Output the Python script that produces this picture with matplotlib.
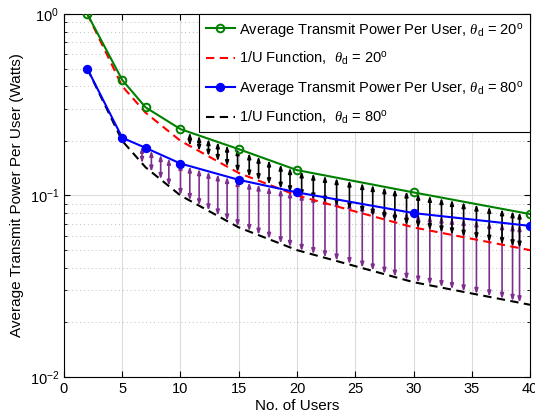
import numpy as np
import matplotlib
matplotlib.use("Agg")
import matplotlib.pyplot as plt
from matplotlib.ticker import LogLocator, NullFormatter, FixedLocator

plt.rcParams['font.family'] = ['Liberation Sans', 'DejaVu Sans']
plt.rcParams['mathtext.fontset'] = 'custom'
plt.rcParams['mathtext.it'] = 'Liberation Serif:italic'
plt.rcParams['mathtext.rm'] = 'Liberation Sans'

# --- data ---
users = [2, 5, 7, 10, 15, 20, 30, 40]
power_20 = [1.0, 0.433, 0.306, 0.232, 0.180, 0.138, 0.104, 0.079]
power_80 = [0.50, 0.208, 0.183, 0.150, 0.122, 0.104, 0.080, 0.068]
inv_20 = [1.0, 0.40, 0.286, 0.20, 0.133, 0.10, 0.0667, 0.050]
inv_80 = [0.50, 0.20, 0.143, 0.10, 0.0667, 0.050, 0.0333, 0.025]

# x positions of the gap arrows
arrow_x = [6.7, 7.5, 8.3, 9.0, 10.0, 10.8, 11.6, 12.4, 13.2, 14.0, 14.9, 15.9,
           16.7, 17.6, 18.6, 19.4, 20.4, 21.4, 22.4, 23.4, 24.5, 25.6, 26.5,
           27.5, 28.4, 29.4, 30.4, 31.4, 32.4, 33.3, 34.3, 35.4, 36.5, 37.6,
           38.5, 39.1]
black_start = 10.5

green = (0, 0.5, 0)
purple = (0.494, 0.184, 0.556)

fig = plt.figure(figsize=(5.35, 4.2), dpi=100)
ax = fig.add_axes([0.1196, 0.1024, 0.8711, 0.8643])


def interp_log(x, xs, ys):
    return 10 ** np.interp(x, xs, np.log10(ys))


# arrows drawn first so the curves sit on top
style = '<|-|>,head_length=0.3,head_width=0.1'
for x in arrow_x:
    lo = interp_log(x, users, inv_80)
    hi = interp_log(x, users, power_80)
    ax.annotate('', xy=(x, hi), xytext=(x, lo),
                arrowprops=dict(arrowstyle=style, color=purple, lw=1.2,
                                shrinkA=0, shrinkB=0), zorder=2)
    if x >= black_start:
        lo = interp_log(x, users, inv_20)
        hi = interp_log(x, users, power_20)
        ax.annotate('', xy=(x, hi), xytext=(x, lo),
                    arrowprops=dict(arrowstyle=style, color='black', lw=1.2,
                                    shrinkA=0, shrinkB=0), zorder=2)

dash = (0, (4, 2.6))
ax.plot(users, power_20, '-o', color=green, lw=1.5, ms=5.5, mfc='none', mew=1.4,
        label=r'Average Transmit Power Per User, $\theta_{\rm d}$ = 20$^{\rm o}$', zorder=4)
ax.plot(users, inv_20, color='red', lw=1.5, ls=dash,
        label=r'1/U Function,  $\theta_{\rm d}$ = 20$^{\rm o}$', zorder=3)
ax.plot(users, power_80, '-o', color='blue', lw=1.5, ms=5.5, mfc='blue', mew=1.2,
        label=r'Average Transmit Power Per User, $\theta_{\rm d}$ = 80$^{\rm o}$', zorder=4)
ax.plot(users, inv_80, color='black', lw=1.5, ls=dash,
        label=r'1/U Function,  $\theta_{\rm d}$ = 80$^{\rm o}$', zorder=3)

ax.set_yscale('log')
ax.set_xlim(0, 40)
ax.set_ylim(1e-2, 1e0)
ax.xaxis.set_major_locator(FixedLocator(range(0, 41, 5)))
ax.yaxis.set_major_locator(LogLocator(base=10, numticks=5))
ax.yaxis.set_minor_locator(LogLocator(base=10, subs=np.arange(2, 10), numticks=20))
ax.yaxis.set_minor_formatter(NullFormatter())

ax.grid(True, which='major', color='#dcdcdc', lw=0.8, ls='-')
ax.grid(True, which='minor', axis='y', color='#c0c0c0', lw=0.7, ls=(0, (1, 3)))
ax.set_axisbelow(True)

ax.tick_params(which='both', direction='in', top=True, right=True, labelsize=10.5)
ax.tick_params(which='major', length=4)
ax.tick_params(which='minor', length=2.5)
for s in ax.spines.values():
    s.set_linewidth(0.8)

ax.set_xlabel('No. of Users', fontsize=11, labelpad=2)
ax.set_ylabel('Average Transmit Power Per User (Watts)', fontsize=11, labelpad=4)

leg = ax.legend(loc='upper right', fontsize=10.5, handlelength=2.0, handletextpad=0.3,
                labelspacing=0.8, borderpad=0.45, borderaxespad=0.0,
                fancybox=False, framealpha=1, edgecolor='black')
leg.get_frame().set_linewidth(0.8)

fig.savefig('out.png', dpi=100)
